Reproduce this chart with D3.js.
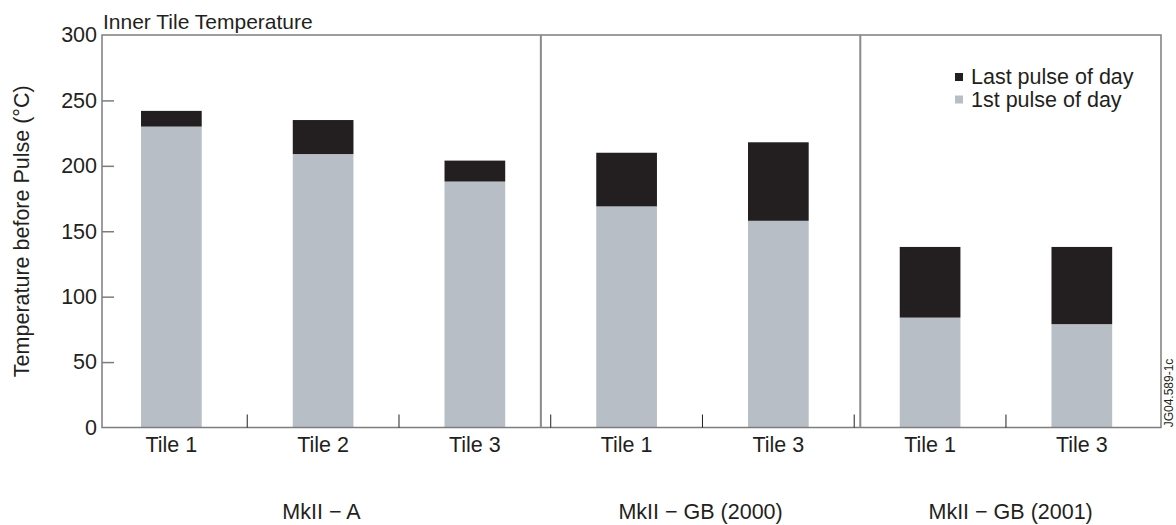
<!DOCTYPE html>
<html>
<head>
<meta charset="utf-8">
<script src="https://cdn.jsdelivr.net/npm/d3@7"></script>
<style>
  html, body { margin: 0; padding: 0; background: #fff; }
  svg { display: block; }
  text { font-family: Arial, "Liberation Sans", Helvetica, sans-serif; fill: #231f20; }
</style>
</head>
<body>
<svg id="chart" width="1176" height="525"></svg>
<script>
// Tile temperature before pulse, per divertor configuration
const tiles = ["Tile 1", "Tile 2", "Tile 3", "Tile 1", "Tile 3", "Tile 1", "Tile 3"];
const tileGroup = [0, 0, 0, 1, 1, 2, 2];
const groups = ["MkII \u2212 A", "MkII \u2212 GB (2000)", "MkII \u2212 GB (2001)"];
const firstPulse = [230, 209, 188, 169, 158, 84, 79];
const lastPulse = [242, 235, 204, 210, 218, 138, 138];
const yTicks = [0, 50, 100, 150, 200, 250, 300];
// group separators, in slot units along the tile axis
const groupBreaks = [2.935, 5.04];
const seriesNames = ["Last pulse of day", "1st pulse of day"];
const seriesColors = ["#231f20", "#b7bec6"];

const svg = d3.select("#chart");
const box = { left: 102, right: 1161, top: 35, bottom: 427.5 };
const fontSize = 21.5;

const y = d3.scaleLinear().domain([0, 300]).range([box.bottom, box.top]);
const slots = d3.scaleLinear().domain([0, tiles.length]).range([box.left - 6.5, box.right - 3.3]);
const x = d3.scaleBand()
  .domain(d3.range(tiles.length))
  .range(slots.range())
  .paddingInner(0.6)
  .paddingOuter(0.3);

// bars: first pulse at the bottom, last pulse stacked on top
const bars = svg.append("g");
bars.selectAll("rect.first").data(d3.range(tiles.length)).join("rect")
  .attr("class", "first")
  .attr("x", i => x(i))
  .attr("width", x.bandwidth())
  .attr("y", i => y(firstPulse[i]))
  .attr("height", i => y(0) - y(firstPulse[i]))
  .attr("fill", seriesColors[1]);
bars.selectAll("rect.last").data(d3.range(tiles.length)).join("rect")
  .attr("class", "last")
  .attr("x", i => x(i))
  .attr("width", x.bandwidth())
  .attr("y", i => y(lastPulse[i]))
  .attr("height", i => y(firstPulse[i]) - y(lastPulse[i]))
  .attr("fill", seriesColors[0]);

// frame
const frameColor = "#7d7d7d";
svg.append("rect")
  .attr("x", box.left).attr("y", box.top)
  .attr("width", box.right - box.left).attr("height", box.bottom - box.top)
  .attr("fill", "none").attr("stroke", frameColor).attr("stroke-width", 1.5);

// group separators
svg.selectAll("line.sep").data(groupBreaks).join("line")
  .attr("class", "sep")
  .attr("x1", d => slots(d)).attr("x2", d => slots(d))
  .attr("y1", box.top).attr("y2", box.bottom)
  .attr("stroke", "#8a8a8a").attr("stroke-width", 2);

// y axis: inward ticks and labels
const yAxis = d3.axisLeft(y).tickValues(yTicks).tickSizeInner(-12).tickSizeOuter(0).tickPadding(5);
const gy = svg.append("g").attr("transform", `translate(${box.left},0)`).call(yAxis);
gy.select(".domain").remove();
gy.selectAll(".tick line")
  .attr("stroke", frameColor).attr("stroke-width", 1.5)
  .attr("display", d => (d === 0 || d === 300) ? "none" : null);
gy.selectAll(".tick text")
  .attr("x", -5)
  .attr("font-size", fontSize).attr("fill", "#231f20")
  .style("font-family", "Arial, 'Liberation Sans', sans-serif");

// x tick marks between tiles
svg.selectAll("line.xtick").data(d3.range(1, tiles.length)).join("line")
  .attr("class", "xtick")
  .attr("x1", d => slots(d)).attr("x2", d => slots(d))
  .attr("y1", box.bottom).attr("y2", box.bottom - 13)
  .attr("stroke", "#231f20").attr("stroke-width", 1);

// tile labels
svg.selectAll("text.tile").data(d3.range(tiles.length)).join("text")
  .attr("class", "tile")
  .attr("x", i => x(i) + x.bandwidth() / 2)
  .attr("y", 452)
  .attr("text-anchor", "middle")
  .attr("font-size", fontSize)
  .text(i => tiles[i]);

// group labels, centered in each section
const edges = [box.left, ...groupBreaks.map(slots), box.right];
svg.selectAll("text.group").data(groups).join("text")
  .attr("class", "group")
  .attr("x", (d, i) => (edges[i] + edges[i + 1]) / 2)
  .attr("y", 519)
  .attr("text-anchor", "middle")
  .attr("font-size", fontSize)
  .text(d => d);

// titles
svg.append("text")
  .attr("x", box.left + 1).attr("y", 29)
  .attr("font-size", 21)
  .text("Inner Tile Temperature");

svg.append("text")
  .attr("transform", `translate(29,${(box.top + box.bottom) / 2}) rotate(-90)`)
  .attr("text-anchor", "middle")
  .attr("font-size", fontSize)
  .text("Temperature before Pulse (\u00b0C)");

svg.append("text")
  .attr("transform", `translate(1173,393) rotate(-90)`)
  .attr("text-anchor", "middle")
  .attr("font-size", 12)
  .text("JG04.589-1c");

// legend
const legend = svg.append("g").attr("transform", "translate(955,77)");
const rows = legend.selectAll("g").data(seriesNames).join("g")
  .attr("transform", (d, i) => `translate(0,${i * 22.5})`);
rows.append("rect")
  .attr("x", 0).attr("y", -4).attr("width", 8).attr("height", 8)
  .attr("fill", (d, i) => seriesColors[i]);
rows.append("text")
  .attr("x", 16).attr("y", 7)
  .attr("font-size", fontSize)
  .text(d => d);
</script>
</body>
</html>
